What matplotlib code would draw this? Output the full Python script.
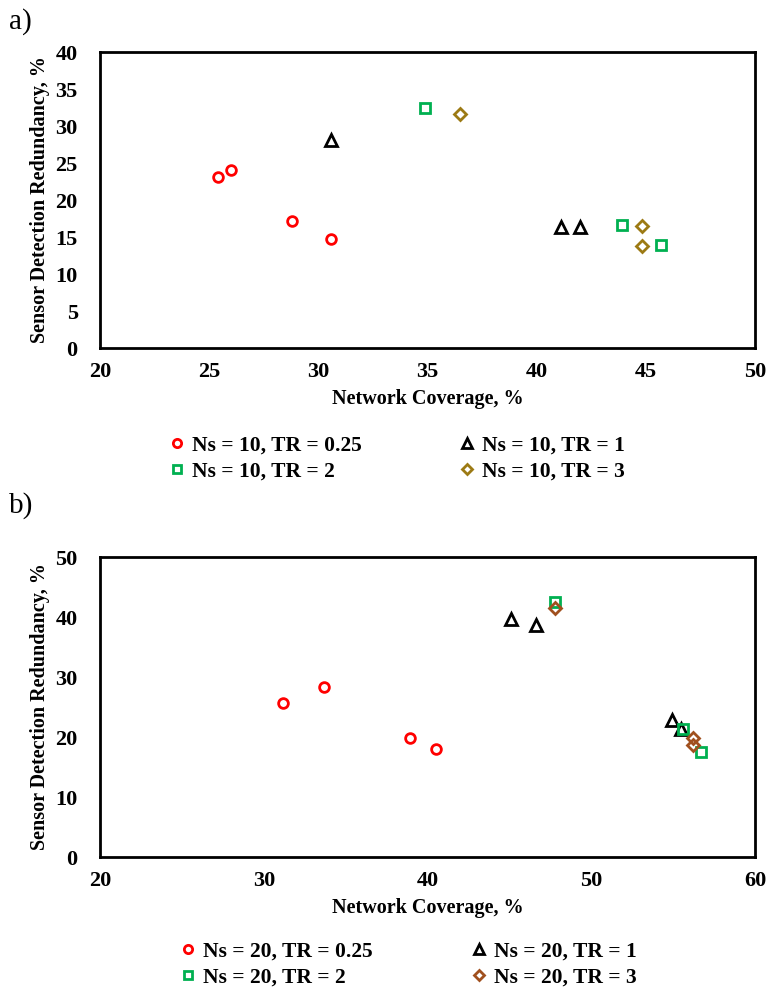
import matplotlib
matplotlib.use("Agg")
import matplotlib.pyplot as plt

plt.rcParams['font.family'] = ['Liberation Serif', 'DejaVu Serif']

# ---- panel a) Ns = 10 ----
a_tr025_x = [25.4, 26.0, 28.8, 30.6]
a_tr025_y = [23.1, 24.0, 17.2, 14.8]
a_tr1_x = [30.6, 41.1, 42.0]
a_tr1_y = [28.1, 16.4, 16.4]
a_tr2_x = [34.9, 43.9, 45.7]
a_tr2_y = [32.5, 16.6, 13.9]
a_tr3_x = [36.5, 44.8, 44.8]
a_tr3_y = [31.6, 16.5, 13.8]

# ---- panel b) Ns = 20 ----
b_tr025_x = [31.2, 33.7, 38.9, 40.5]
b_tr025_y = [25.6, 28.4, 19.8, 18.0]
b_tr1_x = [45.1, 46.6, 54.9, 55.5]
b_tr1_y = [39.6, 38.7, 22.8, 21.4]
b_tr2_x = [47.8, 55.6, 56.7]
b_tr2_y = [42.5, 21.3, 17.5]
b_tr3_x = [47.8, 56.2, 56.2]
b_tr3_y = [41.5, 19.9, 18.6]

tr_labels = ["TR = 0.25", "TR = 1", "TR = 2", "TR = 3"]
markers = ["o", "^", "s", "D"]
colors_a = ["#FF0000", "#000000", "#00B050", "#9C7A14"]
colors_b = ["#FF0000", "#000000", "#00B050", "#A0501E"]
msizes = [7, 8.5, 7, 6]

fig = plt.figure(figsize=(7.69, 9.91), dpi=100)
ax_a = fig.add_axes([0.130, 0.6488, 0.852, 0.2987])
ax_b = fig.add_axes([0.130, 0.1352, 0.852, 0.3027])

def draw(ax, xs, ys, colors, ns, xlim, ylim, yticks, xticks):
    handles = []
    for x, y, m, c, ms, tr in zip(xs, ys, markers, colors, msizes, tr_labels):
        h, = ax.plot(x, y, linestyle="none", marker=m, markersize=ms,
                     markerfacecolor="none", markeredgecolor=c,
                     markeredgewidth=2.0, label=f"Ns = {ns}, {tr}")
        handles.append(h)
    ax.set_xlim(*xlim)
    ax.set_ylim(*ylim)
    ax.set_xticks(xticks)
    ax.set_yticks(yticks)
    ax.tick_params(axis="x", length=0, labelsize=16, pad=10)
    ax.tick_params(axis="y", length=0, labelsize=16, pad=16)
    for lbl in ax.get_xticklabels() + ax.get_yticklabels():
        lbl.set_fontweight("bold")
    for sp in ax.spines.values():
        sp.set_linewidth(2)
    ax.set_xlabel("Network Coverage, %", fontsize=14.5, fontweight="bold", labelpad=5)
    ax.set_ylabel("Sensor Detection Redundancy, %", fontsize=14.5, fontweight="bold", labelpad=4)
    return handles

ha = draw(ax_a, [a_tr025_x, a_tr1_x, a_tr2_x, a_tr3_x],
          [a_tr025_y, a_tr1_y, a_tr2_y, a_tr3_y], colors_a, 10,
          (20, 50), (0, 40), range(0, 41, 5), range(20, 51, 5))
hb = draw(ax_b, [b_tr025_x, b_tr1_x, b_tr2_x, b_tr3_x],
          [b_tr025_y, b_tr1_y, b_tr2_y, b_tr3_y], colors_b, 20,
          (20, 60), (0, 50), range(0, 51, 10), range(20, 61, 10))

def legend(handles, x, y):
    order = [handles[0], handles[2], handles[1], handles[3]]
    leg = fig.legend(handles=order, loc="center", bbox_to_anchor=(x, y),
                     ncol=2, frameon=False, fontsize=15.5, handlelength=0.6,
                     handletextpad=0.4, columnspacing=4.6, labelspacing=0.25,
                     markerscale=0.85)
    for t in leg.get_texts():
        t.set_fontweight("bold")

legend(ha, 0.517, 0.5373)
legend(hb, 0.532, 0.0268)

fig.text(0.012, 0.978, "a)", fontsize=21, va="center", ha="left")
fig.text(0.012, 0.490, "b)", fontsize=21, va="center", ha="left")

fig.savefig("out.png", dpi=100, facecolor="white")
